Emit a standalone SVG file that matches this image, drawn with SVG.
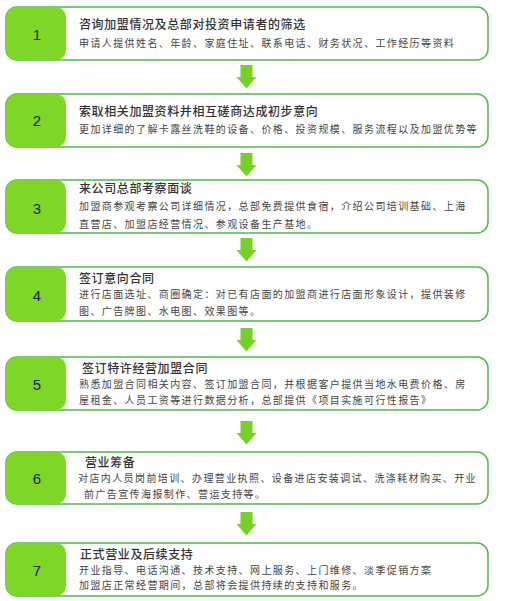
<svg xmlns="http://www.w3.org/2000/svg" width="517" height="601" viewBox="0 0 517 601">
<defs>
<style>
.box{fill:#fff;stroke:#4cbb48;stroke-width:1.5}
.tab{fill:#7ed626}
.num{font-family:"Liberation Sans",Arial,sans-serif;font-size:15px;fill:#222;text-anchor:middle;dominant-baseline:central}
.t{font-family:"Noto Sans CJK SC","Noto Sans",sans-serif;font-size:12px;letter-spacing:0.6px;fill:#333;font-weight:500}
.b{font-family:"Noto Sans CJK SC","Noto Sans",sans-serif;font-size:10px;letter-spacing:1.4px;fill:#444}
.arr{fill:#76d126}
</style>
<path id="arrow" d="M-6,0 H6 V12 H10 L0,23.5 L-10,12 H-6 Z"/>
</defs>
<rect width="517" height="601" fill="#fff"/>
<g id="connectors">
<use href="#arrow" class="arr" x="246.5" y="65"/>
<use href="#arrow" class="arr" x="246.5" y="153"/>
<use href="#arrow" class="arr" x="246.5" y="238"/>
<use href="#arrow" class="arr" x="246.5" y="328"/>
<use href="#arrow" class="arr" x="246.5" y="421"/>
<use href="#arrow" class="arr" x="246.5" y="512"/>
</g>
<g id="step1">
<rect class="box" x="6" y="7" width="482" height="53" rx="11"/>
<rect class="tab" x="6" y="7" width="60" height="53" rx="10"/>
<text class="num" x="37" y="34">1</text>
<text class="t" x="79" y="29">咨询加盟情况及总部对投资申请者的筛选</text>
<text class="b" x="79" y="46.5">申请人提供姓名、年龄、家庭住址、联系电话、财务状况、工作经历等资料</text>
</g>
<g id="step2">
<rect class="box" x="6" y="94" width="482" height="53" rx="11"/>
<rect class="tab" x="6" y="94" width="60" height="53" rx="10"/>
<text class="num" x="37" y="120">2</text>
<text class="t" x="79" y="116">索取相关加盟资料并相互磋商达成初步意向</text>
<text class="b" x="79" y="133">更加详细的了解卡露丝洗鞋的设备、价格、投资规模、服务流程以及加盟优势等</text>
</g>
<g id="step3">
<rect class="box" x="6" y="180" width="482" height="53" rx="11"/>
<rect class="tab" x="6" y="180" width="60" height="53" rx="10"/>
<text class="num" x="37" y="208">3</text>
<text class="t" x="79" y="193">来公司总部考察面谈</text>
<text class="b" x="79" y="210">加盟商参观考察公司详细情况，总部免费提供食宿，介绍公司培训基础、上海</text>
<text class="b" x="79" y="228">直营店、加盟店经营情况、参观设备生产基地。</text>
</g>
<g id="step4">
<rect class="box" x="6" y="267" width="482" height="54" rx="11"/>
<rect class="tab" x="6" y="267" width="60" height="54" rx="10"/>
<text class="num" x="37" y="295">4</text>
<text class="t" x="79" y="282.5">签订意向合同</text>
<text class="b" x="79" y="298">进行店面选址、商圈确定：对已有店面的加盟商进行店面形象设计，提供装修</text>
<text class="b" x="79" y="315">图、广告牌图、水电图、效果图等。</text>
</g>
<g id="step5">
<rect class="box" x="6" y="357" width="482" height="53" rx="11"/>
<rect class="tab" x="6" y="357" width="60" height="53" rx="10"/>
<text class="num" x="37" y="384">5</text>
<text class="t" x="82" y="372.5">签订特许经营加盟合同</text>
<text class="b" x="79" y="388">熟悉加盟合同相关内容、签订加盟合同，并根据客户提供当地水电费价格、房</text>
<text class="b" x="79" y="404">屋租金、人员工资等进行数据分析，总部提供《项目实施可行性报告》</text>
</g>
<g id="step6">
<rect class="box" x="6" y="452" width="482" height="52" rx="11"/>
<rect class="tab" x="6" y="452" width="60" height="52" rx="10"/>
<text class="num" x="37" y="478">6</text>
<text class="t" x="85" y="466.5">营业筹备</text>
<text class="b" x="78" y="482">对店内人员岗前培训、办理营业执照、设备进店安装调试、洗涤耗材购买、开业</text>
<text class="b" x="84" y="498">前广告宣传海报制作、营运支持等。</text>
</g>
<g id="step7">
<rect class="box" x="6" y="543" width="482" height="53" rx="11"/>
<rect class="tab" x="6" y="543" width="60" height="53" rx="10"/>
<text class="num" x="37" y="570">7</text>
<text class="t" x="80" y="558.5">正式营业及后续支持</text>
<text class="b" x="79" y="574">开业指导、电话沟通、技术支持、网上服务、上门维修、淡季促销方案</text>
<text class="b" x="79" y="589">加盟店正常经营期间，总部将会提供持续的支持和服务。</text>
</g>
</svg>
